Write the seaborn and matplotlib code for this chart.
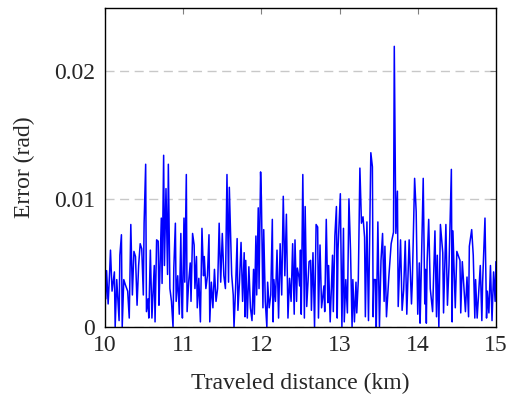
import numpy as np
import pandas as pd
import seaborn as sns
import matplotlib.pyplot as plt
from matplotlib.ticker import FixedLocator, FuncFormatter

# traveled distance (km) and heading error (1e-3 rad)
dist = [
    10.00, 10.01, 10.02, 10.04, 10.06, 10.07, 10.09, 10.12, 10.13, 10.15,
    10.18, 10.19, 10.21, 10.22, 10.24, 10.26, 10.29, 10.31, 10.33, 10.35,
    10.37, 10.39, 10.41, 10.43, 10.45, 10.47, 10.49, 10.50, 10.52, 10.53,
    10.55, 10.56, 10.58, 10.60, 10.63, 10.64, 10.66, 10.68, 10.69, 10.70,
    10.72, 10.73, 10.75, 10.76, 10.78, 10.80, 10.81, 10.83,
    10.85, 10.87, 10.88, 10.90, 10.91, 10.93, 10.95, 10.97, 10.98, 10.99,
    11.01, 11.02, 11.04, 11.05, 11.07, 11.09, 11.10, 11.12, 11.14, 11.15,
    11.17, 11.18, 11.20, 11.22, 11.24, 11.26, 11.27, 11.29, 11.31, 11.33,
    11.34, 11.36, 11.38, 11.40, 11.42, 11.44, 11.46, 11.48, 11.50, 11.52,
    11.54, 11.56, 11.58, 11.59, 11.62, 11.64, 11.65,
    11.67, 11.69, 11.70, 11.72, 11.74, 11.76, 11.78, 11.79, 11.80, 11.82,
    11.84, 11.86, 11.88, 11.90, 11.91, 11.93, 11.94, 11.96, 11.97, 11.99,
    12.00, 12.02, 12.03, 12.05, 12.07, 12.08, 12.10, 12.12, 12.14, 12.15,
    12.16, 12.18, 12.20, 12.22, 12.24, 12.26, 12.28, 12.30, 12.32, 12.34,
    12.36, 12.38, 12.40, 12.42, 12.43, 12.45, 12.46, 12.48,
    12.49, 12.50, 12.51, 12.53, 12.55, 12.56, 12.58, 12.61, 12.63, 12.64,
    12.66, 12.68, 12.70, 12.72, 12.73, 12.75, 12.77, 12.80, 12.81, 12.83,
    12.85, 12.86, 12.88, 12.91, 12.92, 12.94, 12.96, 12.97, 12.98, 13.01,
    13.03, 13.05, 13.06, 13.08, 13.10, 13.12, 13.14, 13.16, 13.17, 13.19,
    13.21, 13.22, 13.24, 13.26, 13.28, 13.30,
    13.32, 13.33, 13.35, 13.37, 13.40, 13.42, 13.43, 13.44, 13.46, 13.47,
    13.49, 13.51, 13.53, 13.55, 13.57, 13.58, 13.60, 13.63, 13.66, 13.69,
    13.70, 13.72, 13.74, 13.75, 13.78, 13.80, 13.82, 13.84, 13.86, 13.89,
    13.91, 13.92, 13.93, 13.96, 13.98, 14.00, 14.02, 14.03, 14.04, 14.07,
    14.09, 14.10, 14.11, 14.12,
    14.14, 14.16, 14.19, 14.22, 14.24, 14.25, 14.27, 14.29, 14.32, 14.33,
    14.36, 14.38, 14.40, 14.43, 14.44, 14.45, 14.48, 14.50, 14.54, 14.55,
    14.57, 14.61, 14.63, 14.65, 14.66, 14.69, 14.71, 14.73, 14.74, 14.76,
    14.80, 14.82, 14.83, 14.86, 14.88, 14.89, 14.91, 14.93, 14.95, 14.97,
    14.99, 15.00,
]
err_mrad = [
    4.3, 2.2, 4.4, 1.8, 4.4, 6.0, 2.8, 4.3, 0.0, 3.7,
    0.5, 5.6, 7.2, 0.0, 3.7, 3.3, 2.8, 0.7, 8.0, 2.5,
    5.9, 5.5, 1.7, 4.8, 6.5, 6.1, 2.5, 8.1, 12.7, 1.2,
    2.2, 0.7, 6.0, 0.7, 4.8, 0.4, 6.8, 6.7, 1.7, 3.8,
    8.5, 3.4, 13.4, 4.8, 10.8, 4.1, 12.7, 3.0,
    2.0, 0.0, 4.6, 8.1, 2.0, 4.0, 1.0, 7.3, 2.5, 0.7,
    8.5, 3.5, 11.9, 1.2, 3.5, 5.0, 2.0, 7.3, 6.4, 3.0,
    5.5, 1.5, 3.8, 0.4, 7.7, 4.0, 5.5, 3.0, 4.0, 7.2,
    0.4, 3.5, 1.5, 4.5, 2.0, 3.0, 8.1, 3.5, 7.3, 4.0,
    3.0, 11.9, 3.5, 10.9, 4.1, 2.5, 0.0,
    3.0, 6.9, 1.3, 3.5, 6.6, 2.0, 5.8, 0.8, 5.2, 0.7,
    4.7, 1.5, 0.5, 4.5, 1.0, 7.1, 2.5, 9.3, 3.0, 12.1,
    10.1, 1.5, 7.6, 2.0, 0.0, 3.5, 1.5, 2.5, 8.4, 0.4,
    3.7, 2.0, 6.0, 0.7, 6.5, 2.5, 10.2, 4.0, 8.8, 0.7,
    3.8, 2.0, 6.5, 1.0, 6.8, 2.0, 4.6, 3.9,
    3.2, 6.0, 1.0, 11.9, 0.7, 9.4, 1.6, 5.1, 5.2, 1.3,
    5.8, 0.0, 8.0, 7.8, 0.7, 6.4, 1.5, 3.2, 1.2, 8.4,
    1.9, 4.8, 0.4, 5.6, 1.2, 7.1, 9.4, 0.7, 6.0, 10.4,
    0.0, 7.7, 0.4, 3.7, 1.1, 10.0, 6.0, 0.0, 3.7, 0.4,
    3.5, 1.1, 3.7, 12.4, 8.1, 8.6,
    7.0, 0.8, 8.2, 0.5, 13.6, 12.5, 0.8, 3.7, 3.7, 0.0,
    8.2, 0.0, 5.2, 7.3, 2.0, 6.3, 0.8, 3.9, 6.5, 7.4,
    21.9, 7.3, 10.6, 1.6, 6.8, 1.3, 2.9, 6.7, 1.0, 6.8,
    3.4, 1.8, 3.4, 11.6, 9.0, 1.0, 5.0, 0.3, 2.9, 11.6,
    1.8, 4.5, 0.3, 5.1,
    8.4, 3.0, 1.2, 7.5, 0.8, 5.6, 0.0, 8.0, 5.8, 1.1,
    8.0, 1.7, 4.8, 12.3, 0.4, 7.5, 1.5, 5.9, 5.2, 1.1,
    5.1, 1.2, 3.9, 0.8, 6.3, 7.6, 5.6, 0.7, 3.7, 0.7,
    4.8, 0.5, 3.5, 8.5, 0.7, 2.8, 1.1, 4.8, 0.5, 4.3,
    2.0, 5.1,
]
y_ticks = [0, 0.01, 0.02]
y_tick_labels = ["0", "0.01", "0.02"]
x_ticks = [10, 11, 12, 13, 14, 15]

df = pd.DataFrame({"dist": dist, "err": np.array(err_mrad) * 1e-3})

sns.set_style("white")
plt.rcParams["font.family"] = ["Liberation Serif", "DejaVu Serif"]

fig = plt.figure(figsize=(5.11, 3.94), dpi=100)
ax = fig.add_axes([0.2055, 0.170, 0.765, 0.810])

ax.yaxis.set_major_locator(FixedLocator(y_ticks))
ax.yaxis.set_major_formatter(FuncFormatter(
    lambda v, p: y_tick_labels[y_ticks.index(round(v, 3))] if round(v, 3) in y_ticks else ""))
ax.xaxis.set_major_locator(FixedLocator(x_ticks))

ax.grid(axis="y", color="#c8c8c8", linestyle=(0, (6.5, 4)), linewidth=1.0)
ax.set_axisbelow(True)

sns.lineplot(data=df, x="dist", y="err", ax=ax, color="#0000ff", linewidth=1.1,
             estimator=None, sort=False)

ax.set_xlim(10, 15)
ax.set_ylim(0, 0.0249)
ax.set_xlabel("Traveled distance (km)", fontsize=17, labelpad=12)
ax.set_ylabel("Error (rad)", fontsize=17, labelpad=14)
ax.tick_params(axis="both", direction="in", length=4, width=0.8, color="#808080",
               labelsize=17, top=True, right=True)
ax.tick_params(axis="x", pad=6)
ax.tick_params(axis="y", pad=7)
for s in ax.spines.values():
    s.set_color("black")
    s.set_linewidth(1.0)

fig.savefig("out.png", dpi=100)
